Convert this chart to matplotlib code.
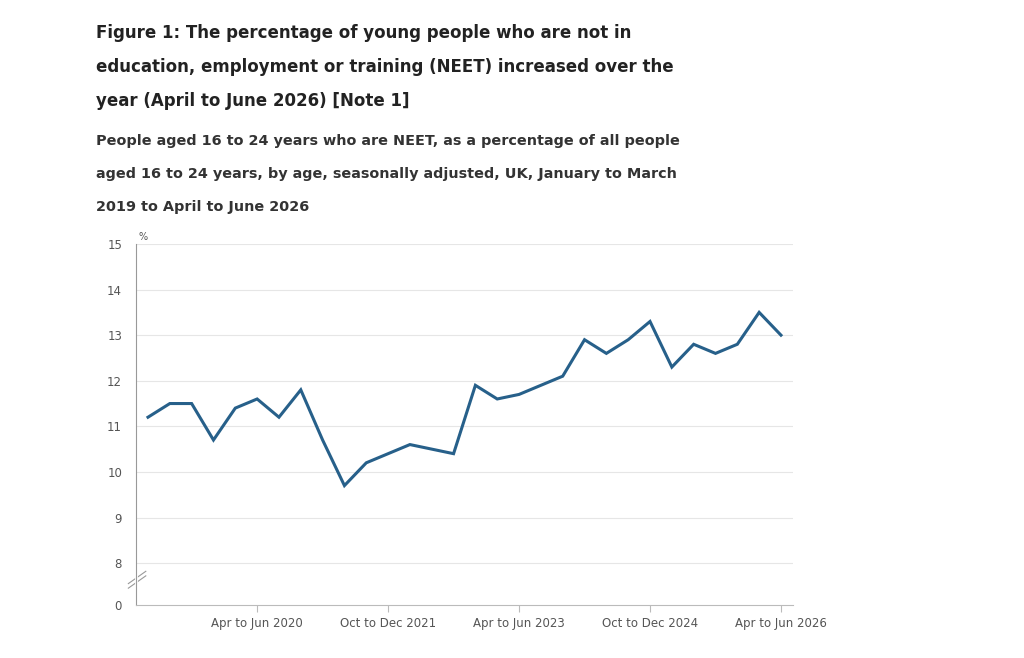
import matplotlib
matplotlib.use("Agg")
import matplotlib.pyplot as plt

values = [11.2, 11.5, 11.5, 10.7, 11.4, 11.6, 11.2, 11.8, 10.7, 9.7,
          10.2, 10.4, 10.6, 10.5, 10.4, 11.9, 11.6, 11.7, 11.9, 12.1,
          12.9, 12.6, 12.9, 13.3, 12.3, 12.8, 12.6, 12.8, 13.5, 13.0]
tick_idx = [5, 11, 17, 23, 29]
tick_labels = ["Apr to Jun 2020", "Oct to Dec 2021", "Apr to Jun 2023",
               "Oct to Dec 2024", "Apr to Jun 2026"]
y_ticks = [8, 9, 10, 11, 12, 13, 14, 15]
zero_pos = 7.08

fig = plt.figure(figsize=(10.24, 6.58), dpi=100)
fig.patch.set_facecolor("white")
ax = fig.add_axes([0.1328, 0.0805, 0.6416, 0.5487])

x = list(range(len(values)))
ax.plot(x, values, color="#27608a", lw=2.2, solid_joinstyle="miter")
ax.set_xlim(-0.55, 29.55)
ax.set_ylim(zero_pos, 15)
ax.set_yticks(y_ticks + [zero_pos])
ax.set_yticklabels([str(t) for t in y_ticks] + ["0"])
ax.set_xticks(tick_idx)
ax.set_xticklabels(tick_labels)
ax.tick_params(axis="y", length=0, labelsize=8.5, labelcolor="#555555", pad=10)
ax.tick_params(axis="x", length=5, color="#bbbbbb", labelsize=8.5, labelcolor="#555555")
for t in y_ticks:
    ax.axhline(t, color="#e6e6e6", lw=0.8, zorder=0)
for s in ["top", "right"]:
    ax.spines[s].set_visible(False)
ax.spines["left"].set_color("#999999")
ax.spines["bottom"].set_color("#bbbbbb")
ax.spines["left"].set_linewidth(0.8)
for dy in (0.0, 0.1):
    ax.plot([-0.9, -0.1], [7.45 + dy, 7.72 + dy], color="#999999", lw=0.8,
            clip_on=False, transform=ax.transData)
ax.plot([-0.55, -0.55], [7.5, 7.77], color="white", lw=2, clip_on=False)
ax.text(-0.45, 15.05, "%", fontsize=7, color="#555555", va="bottom")

fig.text(0.094, 0.963, "Figure 1: The percentage of young people who are not in\n"
         "education, employment or training (NEET) increased over the\n"
         "year (April to June 2026) [Note 1]",
         fontsize=12, fontweight="bold", color="#222222", va="top", linespacing=2.13)
fig.text(0.094, 0.796, "People aged 16 to 24 years who are NEET, as a percentage of all people\n"
         "aged 16 to 24 years, by age, seasonally adjusted, UK, January to March\n"
         "2019 to April to June 2026",
         fontsize=10.4, fontweight="bold", color="#333333", va="top", linespacing=2.7)

fig.savefig("out.png", dpi=100, facecolor="white")
